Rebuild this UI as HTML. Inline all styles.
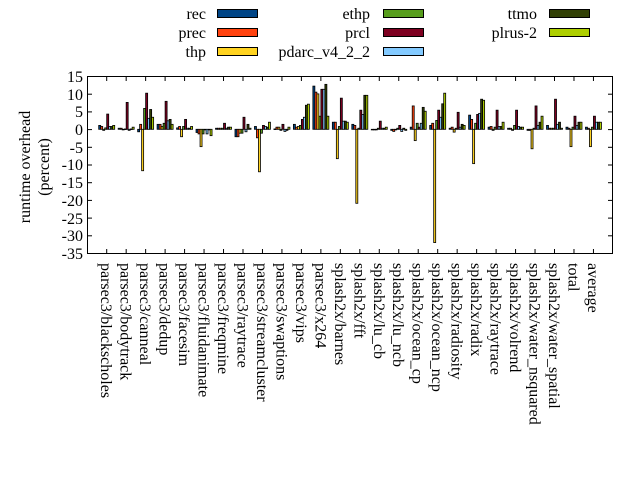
<!DOCTYPE html>
<html><head><meta charset="utf-8"><style>
html,body{margin:0;padding:0;background:#fff;}
svg{display:block;font-family:"Liberation Serif",serif;}
</style></head><body>
<svg id="s" width="640" height="480" viewBox="0 0 640 480" xmlns="http://www.w3.org/2000/svg">
<rect width="640" height="480" fill="#fff"/>
<g font-size="16" text-anchor="end" fill="#000">
<text x="206" y="19">rec</text>
<text x="206" y="38">prec</text>
<text x="206" y="57">thp</text>
<text x="370" y="19">ethp</text>
<text x="370" y="38">prcl</text>
<text x="370" y="57">pdarc_v4_2_2</text>
<text x="537" y="19">ttmo</text>
<text x="537" y="38">plrus-2</text>
</g>
<g stroke="#000" stroke-width="1">
<rect x="217.5" y="9.5" width="40" height="8" fill="#004586"/>
<rect x="217.5" y="28.5" width="40" height="8" fill="#ff420e"/>
<rect x="217.5" y="47.5" width="40" height="8" fill="#ffd320"/>
<rect x="383.5" y="9.5" width="40" height="8" fill="#579d1c"/>
<rect x="383.5" y="28.5" width="40" height="8" fill="#7e0021"/>
<rect x="383.5" y="47.5" width="40" height="8" fill="#83caff"/>
<rect x="549.5" y="9.5" width="40" height="8" fill="#314004"/>
<rect x="549.5" y="28.5" width="40" height="8" fill="#aecf00"/>
</g>
<g font-size="16" text-anchor="end">
<text x="83" y="82">15</text>
<text x="83" y="100">10</text>
<text x="83" y="117">5</text>
<text x="83" y="135">0</text>
<text x="83" y="153">-5</text>
<text x="83" y="170">-10</text>
<text x="83" y="188">-15</text>
<text x="83" y="206">-20</text>
<text x="83" y="224">-25</text>
<text x="83" y="241">-30</text>
<text x="83" y="259">-35</text>
</g>
<g font-size="16" text-anchor="middle">
<text transform="translate(30,167) rotate(-90)">runtime overhead</text>
<text transform="translate(49,167) rotate(-90)">(percent)</text>
</g>
<g id="bars"></g>
<g id="ticks" stroke="#000" stroke-width="1"></g>
<rect x="87.5" y="76.5" width="525" height="177" fill="none" stroke="#000" stroke-width="1"/>
<g font-size="16" id="xl">
<text transform="translate(101.2,263) rotate(90)">parsec3/blackscholes</text>
<text transform="translate(120.7,263) rotate(90)">parsec3/bodytrack</text>
<text transform="translate(140.1,263) rotate(90)">parsec3/canneal</text>
<text transform="translate(159.6,263) rotate(90)">parsec3/dedup</text>
<text transform="translate(179.1,263) rotate(90)">parsec3/facesim</text>
<text transform="translate(198.5,263) rotate(90)">parsec3/fluidanimate</text>
<text transform="translate(218.0,263) rotate(90)">parsec3/freqmine</text>
<text transform="translate(237.5,263) rotate(90)">parsec3/raytrace</text>
<text transform="translate(257.0,263) rotate(90)">parsec3/streamcluster</text>
<text transform="translate(276.4,263) rotate(90)">parsec3/swaptions</text>
<text transform="translate(295.9,263) rotate(90)">parsec3/vips</text>
<text transform="translate(315.4,263) rotate(90)">parsec3/x264</text>
<text transform="translate(334.8,263) rotate(90)">splash2x/barnes</text>
<text transform="translate(354.3,263) rotate(90)">splash2x/fft</text>
<text transform="translate(373.8,263) rotate(90)">splash2x/lu_cb</text>
<text transform="translate(393.2,263) rotate(90)">splash2x/lu_ncb</text>
<text transform="translate(412.7,263) rotate(90)">splash2x/ocean_cp</text>
<text transform="translate(432.2,263) rotate(90)">splash2x/ocean_ncp</text>
<text transform="translate(451.7,263) rotate(90)">splash2x/radiosity</text>
<text transform="translate(471.1,263) rotate(90)">splash2x/radix</text>
<text transform="translate(490.6,263) rotate(90)">splash2x/raytrace</text>
<text transform="translate(510.1,263) rotate(90)">splash2x/volrend</text>
<text transform="translate(529.5,263) rotate(90)">splash2x/water_nsquared</text>
<text transform="translate(549.0,263) rotate(90)">splash2x/water_spatial</text>
<text transform="translate(568.5,263) rotate(90)">total</text>
<text transform="translate(587.9,263) rotate(90)">average</text>
</g>
</svg>
<script>
var D=[
[1.1,0.8,-0.3,0.4,4.3,0.8,0.8,1.1],
[0.3,0.3,0,0.1,7.6,-0.3,0.1,0.6],
[-0.7,1.4,-11.7,5.9,10.2,3.1,5.6,3.4],
[1.4,1.4,0.8,1.7,7.9,2.4,2.8,1.4],
[0.4,0.8,-2.1,0.8,2.8,0.3,0.3,0.8],
[-0.9,-1.3,-4.9,-1.3,0,-1.3,0,-1.8],
[0.3,0.3,0.3,0.3,1.7,0.3,0.6,0.6],
[-2.1,-2.1,-1.1,-1.1,3.4,-0.7,1.4,0.3],
[0.8,-2.4,-12,-1.1,1.1,0.8,0.6,2.0],
[0.1,0.6,0.6,-0.3,1.4,-0.6,-0.3,0.6],
[1.4,0.6,0.8,1.1,2.8,3.4,6.8,7.1],
[12.2,10.5,10,3.7,11.3,11.3,12.7,3.7],
[2.0,2.0,-8.3,0.8,8.8,2.3,2.3,2.0],
[1.4,1.1,-20.9,0.3,5.4,4.2,9.6,9.6],
[0,0,0,0.3,2.3,0.3,0.3,0.6],
[-0.3,-0.6,0,0.3,1.1,-0.6,0.3,-0.3],
[0.6,6.6,-3.2,1.7,0.6,1.7,6.2,5.1],
[1.1,1.7,-32,2.5,5.4,3.4,7.2,10.2],
[0.3,0.6,-0.8,0.3,4.8,0.6,1.4,1.1],
[4.0,2.8,-9.7,1.7,4.2,4.5,8.5,8.2],
[0.6,0.8,-0.3,0.6,5.4,0.8,0.8,2.0],
[0.3,0.3,-0.3,1.1,5.4,0.8,0.6,0.6],
[-0.3,-0.3,-5.5,0.3,6.6,1.1,2.0,3.7],
[1.1,0.3,0.3,0.3,8.5,1.4,2.0,0.3],
[0.6,0.3,-4.9,0.6,3.7,1.1,2.0,2.0],
[0.6,0.3,-4.9,0.6,3.7,2.0,2.0,2.0]];
var C=["#004586","#ff420e","#ffd320","#579d1c","#7e0021","#83caff","#314004","#aecf00"];
var ns="http://www.w3.org/2000/svg",b=document.getElementById("bars"),t=document.getElementById("ticks");
var z=129.3,k=3.54;
function el(n,a,p){var e=document.createElementNS(ns,n);for(var q in a)e.setAttribute(q,a[q]);p.appendChild(e);}
for(var i=0;i<26;i++){var cx=106.7+19.47*i;
 for(var j=0;j<8;j++){var v=D[i][j],y1=z-Math.max(v,0)*k,y2=z-Math.min(v,0)*k;
  el("rect",{x:(cx-8+2*j).toFixed(2),y:y1.toFixed(2),width:2,height:Math.max(y2-y1,0.6).toFixed(2),fill:C[j],stroke:"#000","stroke-width":0.8},b);}
 el("line",{x1:cx,x2:cx,y1:253.5,y2:249},t);el("line",{x1:cx,x2:cx,y1:76.5,y2:81},t);}
for(var m=0;m<11;m++){var y=76.5+m*17.7;el("line",{x1:87.5,x2:92,y1:y,y2:y},t);el("line",{x1:612.5,x2:608,y1:y,y2:y},t);}
</script>
</body></html>
